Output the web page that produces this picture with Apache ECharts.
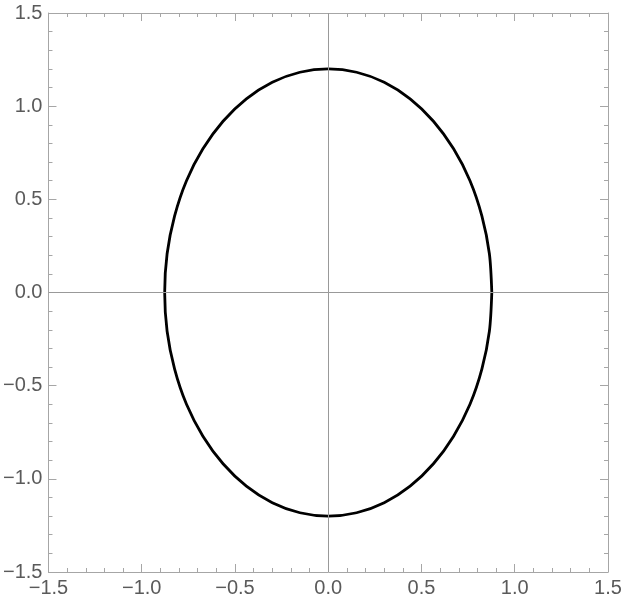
<!DOCTYPE html>
<html>
<head>
<meta charset="utf-8">
<script src="https://cdn.jsdelivr.net/npm/echarts@6/dist/echarts.min.js"></script>
<style>
  html, body { margin: 0; padding: 0; background: #fff; }
  #chart { width: 625px; height: 610px; }
</style>
</head>
<body>
<div id="chart"></div>
<script>
// ellipse points (every 10 degrees)
var ellipseX = [0.877, 0.864, 0.824, 0.760, 0.672, 0.564, 0.439, 0.300, 0.152, 0,
  -0.152, -0.300, -0.439, -0.564, -0.672, -0.760, -0.824, -0.864, -0.877,
  -0.864, -0.824, -0.760, -0.672, -0.564, -0.439, -0.300, -0.152, 0,
  0.152, 0.300, 0.439, 0.564, 0.672, 0.760, 0.824, 0.864, 0.877];
var ellipseY = [0, 0.208, 0.410, 0.600, 0.771, 0.919, 1.039, 1.128, 1.182, 1.2,
  1.182, 1.128, 1.039, 0.919, 0.771, 0.600, 0.410, 0.208, 0,
  -0.208, -0.410, -0.600, -0.771, -0.919, -1.039, -1.128, -1.182, -1.2,
  -1.182, -1.128, -1.039, -0.919, -0.771, -0.600, -0.410, -0.208, 0];
var tickMin = -1.5, tickMax = 1.5, tickStep = 0.5;

var chart = echarts.init(document.getElementById('chart'));

function fmt(v) {
  var s = v.toFixed(1);
  return s.charAt(0) === '-' ? '\u2212' + s.slice(1) : s;
}

function makeAxis(pos, showLabel) {
  return {
    type: 'value',
    position: pos,
    min: tickMin,
    max: tickMax,
    interval: tickStep,
    axisLine: { show: true, onZero: false, lineStyle: { color: '#a6a6a6', width: 1 } },
    axisTick: { show: true, inside: true, length: 8, lineStyle: { color: '#a6a6a6' } },
    minorTick: { show: true, splitNumber: 5, length: 4, lineStyle: { color: '#a6a6a6' } },
    splitLine: { show: false },
    axisLabel: {
      show: showLabel,
      formatter: fmt,
      color: '#5a5a5a',
      fontSize: 20,
      fontFamily: 'Liberation Sans',
      margin: 6,
      showMinLabel: true,
      showMaxLabel: true
    }
  };
}

var points = ellipseX.map(function (x, i) { return [x, ellipseY[i]]; });

var option = {
  animation: false,
  grid: { left: 48, right: 17, top: 13, bottom: 38 },
  xAxis: [makeAxis('bottom', true), makeAxis('top', false)],
  yAxis: [makeAxis('left', true), makeAxis('right', false)],
  series: [
    {
      type: 'line',
      xAxisIndex: 0,
      yAxisIndex: 0,
      data: points,
      smooth: 0.3,
      showSymbol: false,
      lineStyle: { color: '#000', width: 2.8 },
      markLine: {
        silent: true,
        symbol: 'none',
        label: { show: false },
        lineStyle: { color: '#999', width: 1, type: 'solid' },
        data: [{ xAxis: 0 }, { yAxis: 0 }]
      },
      z: 3
    }
  ]
};
chart.setOption(option);
</script>
</body>
</html>
